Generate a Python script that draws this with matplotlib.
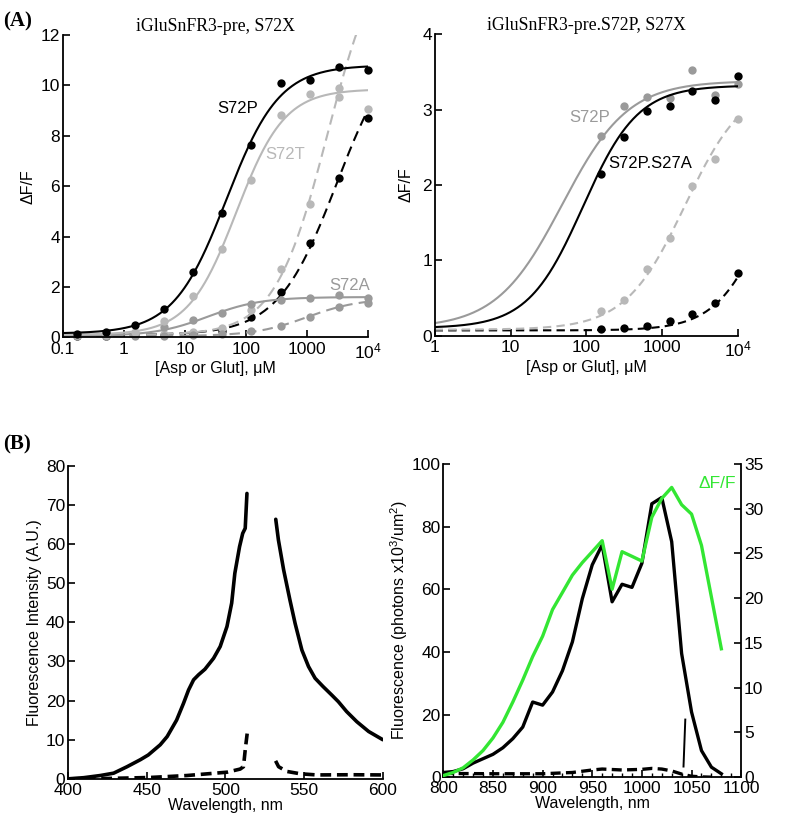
import numpy as np
import matplotlib
matplotlib.use('Agg')
import matplotlib.pyplot as plt

plt.rcParams['font.family'] = ['Liberation Sans', 'DejaVu Sans']
plt.rcParams['mathtext.fontset'] = 'custom'
plt.rcParams['mathtext.rm'] = 'Liberation Sans'
plt.rcParams['mathtext.it'] = 'Liberation Sans:italic'

# ---- panel A, left: iGluSnFR3-pre, S72X ----
conc_a = [0.169, 0.508, 1.52, 4.57, 13.7, 41.2, 123, 370, 1111, 3333, 10000]
s72p_glu = [0.12, 0.2, 0.49, 1.13, 2.6, 4.93, 7.63, 10.08, 10.2, 10.74, 10.6]
s72t_glu = [0.1, 0.1, 0.2, 0.66, 1.66, 3.52, 6.23, 8.82, 9.64, 9.52, np.nan]
s72a_glu = [0.1, 0.07, 0.15, 0.4, 0.68, 0.97, 1.33, 1.5, 1.55, 1.67, 1.58]
s72t_asp = [0.1, 0.08, 0.1, 0.15, 0.2, 0.38, 1.1, 2.7, 5.3, 9.88, 9.05]
s72p_asp = [0.05, 0.05, 0.08, 0.1, 0.15, 0.25, 0.82, 1.8, 3.74, 6.32, 8.72]
s72a_asp = [0.05, 0.05, 0.05, 0.05, 0.08, 0.15, 0.26, 0.45, 0.82, 1.19, 1.37]
# fitted Hill curves: (F0, Fmax, EC50, n)
fit_s72p_glu = (0.15, 10.65, 48, 1.0)
fit_s72t_glu = (0.1, 9.75, 70, 1.1)
fit_s72a_glu = (0.05, 1.55, 24, 1.0)
fit_s72t_asp = (0.1, 16.0, 2200, 1.0)
fit_s72p_asp = (0.1, 12.0, 3075, 0.9)
fit_s72a_asp = (0.05, 1.5, 1000, 1.0)
ticks_a1 = [0.1, 1, 10, 100, 1000, 10000]
ticklabels_a1 = ['0.1', '1', '10', '100', '1000', '10$^4$']

# ---- panel A, right: iGluSnFR3-pre.S72P, S27X ----
conc_a2 = [156, 312, 625, 1250, 2500, 5000, 10000]
s72p_glu2 = [2.65, 3.05, 3.16, 3.15, 3.52, 3.19, 3.34]
s27a_glu = [2.14, 2.63, 2.98, 3.05, 3.24, 3.12, 3.44]
s72p_asp2 = [0.33, 0.47, 0.88, 1.3, 1.99, 2.35, 2.87]
s27a_asp = [0.09, 0.1, 0.13, 0.19, 0.29, 0.44, 0.83]
fit_s72p_glu2 = (0.1, 3.28, 48, 1.0)
fit_s27a_glu = (0.1, 3.22, 90, 1.2)
fit_s72p_asp2 = (0.08, 3.3, 2000, 1.1)
fit_s27a_asp = (0.07, 3.3, 28000, 1.25)
ticks_a2 = [1, 10, 100, 1000, 10000]
ticklabels_a2 = ['1', '10', '100', '1000', '10$^4$']

# ---- panel B, left: emission spectra ----
wl_left_a = [400, 410, 420.5, 429, 437.5, 446, 451, 458.6, 463, 469, 473.4, 476.6,
             479.8, 483, 487, 492.5, 496.7, 501, 504, 506, 509, 511, 512.6, 513.7]
em_bound_a = [0, 0.3, 0.85, 1.45, 3.1, 4.9, 6.1, 8.7, 10.8, 15, 19.3, 22.7,
              25.3, 26.6, 28, 30.8, 33.8, 38.9, 44.9, 52.5, 59.3, 62.7, 64, 72.9]
wl_left_b = [532, 533.7, 537, 541, 544.3, 548.6, 552.8, 557, 562, 567.6, 571.8,
             577, 583.5, 591, 600]
em_bound_b = [66.3, 61, 53.4, 45.7, 39.7, 32.9, 28.7, 25.7, 23.6, 21.4, 19.7,
              17.2, 14.6, 12.1, 10]
wl_apo_a = [400, 425, 452, 475.5, 501, 509.4, 511.5, 512.6, 514]
em_apo_a = [0, 0.1, 0.35, 0.85, 1.7, 2.5, 3.1, 7.4, 12.1]
wl_apo_b = [531.9, 533.8, 539, 547.5, 558, 580, 600]
em_apo_b = [4.6, 3.1, 1.9, 1.3, 1.0, 1.05, 1.0]

# ---- panel B, right: 2P spectra ----
wl_2p = [800, 810, 820, 830, 840, 850, 860, 870, 880, 890, 900, 910, 920, 930, 940,
         950, 960, 970, 980, 990, 1000, 1010, 1020, 1030, 1040, 1050, 1060, 1070, 1080]
fl_bound = [1.5, 1.8, 2.7, 4.5, 5.9, 7.3, 9.4, 12.3, 16, 24, 23, 27.2, 34, 43.2, 57,
            67.8, 74.2, 56, 61.6, 60.6, 68.3, 87.3, 89.3, 75.2, 39.5, 20.8, 8.5, 3.2, 1.1]
dff_2p = [0.18, 0.53, 1.05, 1.93, 2.98, 4.38, 6.13, 8.4, 10.85, 13.48, 15.75, 18.73,
          20.65, 22.58, 23.98, 25.2, 26.43, 21.0, 25.2, 24.68, 24.15, 29.05, 31.15,
          32.38, 30.45, 29.4, 25.9, 20.13, 14.35]
wl_apo_2p = [800, 850, 900, 930, 950, 960, 980, 1000, 1010, 1020, 1030, 1040, 1050, 1060, 1070]
fl_apo = [1.2, 1.1, 1.1, 1.5, 2.3, 2.6, 2.3, 2.5, 2.8, 2.6, 2.0, 1.0, 0.3, 0.1, 0.0]
wl_spike = [1043.7, 1041.9]
fl_spike = [18.4, 3.4]

BLACK = '#000000'
LIGHT = '#b8b8b8'
MID = '#9a9a9a'
GREEN = '#33e633'
TICK_FS = 12.5
LABEL_FS = 11.5


def hill(x, p):
    f0, fmax, k, n = p
    r = (x / k) ** n
    return f0 + fmax * r / (1 + r)


def style(ax):
    for s in ['top', 'right']:
        ax.spines[s].set_visible(False)
    for s in ['left', 'bottom']:
        ax.spines[s].set_linewidth(1.3)
    ax.tick_params(direction='in', length=5, width=1.2, labelsize=TICK_FS, pad=2)
    ax.tick_params(axis='x', pad=3)


fig = plt.figure(figsize=(7.86, 8.33), dpi=100)

# A left
ax1 = fig.add_axes([0.080, 0.595, 0.388, 0.363])
xs = np.logspace(-1, 4, 400)
for pts, fit, col, ls in [(s72p_asp, fit_s72p_asp, BLACK, (0, (5, 3))),
                          (s72t_asp, fit_s72t_asp, LIGHT, (0, (5, 3))),
                          (s72a_asp, fit_s72a_asp, MID, (0, (5, 3))),
                          (s72a_glu, fit_s72a_glu, MID, '-'),
                          (s72t_glu, fit_s72t_glu, LIGHT, '-'),
                          (s72p_glu, fit_s72p_glu, BLACK, '-')]:
    ax1.plot(xs, hill(xs, fit), color=col, lw=1.5, ls=ls)
    ax1.plot(conc_a, pts, 'o', color=col, ms=6, mec='none', clip_on=False)
ax1.set_xscale('log')
ax1.set_xlim(0.1, 10000)
ax1.set_ylim(0, 12)
ax1.set_xticks(ticks_a1)
ax1.set_xticklabels(ticklabels_a1)
ax1.minorticks_off()
ax1.set_yticks(range(0, 13, 2))
style(ax1)
ax1.set_ylabel('ΔF/F', fontsize=LABEL_FS, labelpad=4)
ax1.set_xlabel('[Asp or Glut], μM', fontsize=LABEL_FS, labelpad=0)
ax1.set_title('iGluSnFR3-pre, S72X', fontsize=12.8, family='Liberation Serif', pad=2)
ax1.text(0.573, 0.757, 'S72P', color=BLACK, fontsize=12, ha='center', va='center',
         transform=ax1.transAxes)
ax1.text(0.73, 0.605, 'S72T', color=LIGHT, fontsize=12, ha='center', va='center',
         transform=ax1.transAxes)
ax1.text(0.94, 0.172, 'S72A', color=MID, fontsize=12, ha='center', va='center',
         transform=ax1.transAxes)

# A right
ax2 = fig.add_axes([0.553, 0.597, 0.386, 0.362])
xs2 = np.logspace(0, 4, 400)
for pts, fit, col, ls in [(s27a_asp, fit_s27a_asp, BLACK, (0, (4, 2.5))),
                          (s72p_asp2, fit_s72p_asp2, LIGHT, (0, (4, 2.5))),
                          (s72p_glu2, fit_s72p_glu2, MID, '-'),
                          (s27a_glu, fit_s27a_glu, BLACK, '-')]:
    ax2.plot(xs2, hill(xs2, fit), color=col, lw=1.5, ls=ls)
    ax2.plot(conc_a2, pts, 'o', color=col, ms=6, mec='none', clip_on=False)
ax2.set_xscale('log')
ax2.set_xlim(1, 10000)
ax2.set_ylim(0, 4)
ax2.set_xticks(ticks_a2)
ax2.set_xticklabels(ticklabels_a2)
ax2.minorticks_off()
ax2.set_yticks(range(0, 5))
style(ax2)
ax2.set_ylabel('ΔF/F', fontsize=LABEL_FS, labelpad=6)
ax2.set_xlabel('[Asp or Glut], μM', fontsize=LABEL_FS, labelpad=0)
ax2.set_title('iGluSnFR3-pre.S72P, S27X', fontsize=12.8, family='Liberation Serif', pad=2)
ax2.text(0.51, 0.725, 'S72P', color=MID, fontsize=12, ha='center', va='center',
         transform=ax2.transAxes)
ax2.text(0.71, 0.57, 'S72P.S27A', color=BLACK, fontsize=12, ha='center', va='center',
         transform=ax2.transAxes)

# B left
ax3 = fig.add_axes([0.0865, 0.065, 0.4005, 0.376])
ax3.plot(wl_left_a, em_bound_a, color=BLACK, lw=2.6, solid_capstyle='round')
ax3.plot(wl_left_b, em_bound_b, color=BLACK, lw=2.6, solid_capstyle='round')
ax3.plot(wl_apo_a, em_apo_a, color=BLACK, lw=2.6, ls=(0, (3, 1.6)))
ax3.plot(wl_apo_b, em_apo_b, color=BLACK, lw=2.6, ls=(0, (3, 1.6)))
ax3.set_xlim(400, 600)
ax3.set_ylim(0, 80)
ax3.set_xticks(range(400, 601, 50))
ax3.set_yticks(range(0, 81, 10))
style(ax3)
ax3.set_ylabel('Fluorescence Intensity (A.U.)', fontsize=LABEL_FS, labelpad=3)
ax3.set_xlabel('Wavelength, nm', fontsize=LABEL_FS, labelpad=0)

# B right
ax4 = fig.add_axes([0.564, 0.067, 0.379, 0.376])
ax4.plot(wl_2p, fl_bound, color=BLACK, lw=2.4)
ax4.plot(wl_apo_2p, fl_apo, color=BLACK, lw=2.4, ls=(0, (3, 1.6)))
ax4.plot(wl_spike, fl_spike, color=BLACK, lw=1.4)
ax4.set_xlim(800, 1100)
ax4.set_ylim(0, 100)
ax4.set_xticks(range(800, 1101, 50))
ax4.set_xticks(range(800, 1101, 10), minor=True)
ax4.set_yticks(range(0, 101, 20))
style(ax4)
ax4.tick_params(axis='x', which='minor', direction='in', length=3, width=1)
ax4.set_ylabel('Fluorescence (photons x10$^3$/um$^2$)', fontsize=LABEL_FS, labelpad=1)
ax4.set_xlabel('Wavelength, nm', fontsize=LABEL_FS, labelpad=0)
ax5 = ax4.twinx()
ax5.plot(wl_2p, dff_2p, color=GREEN, lw=2.4)
ax5.set_ylim(0, 35)
ax5.set_yticks(range(0, 36, 5))
for s in ['top', 'left', 'bottom']:
    ax5.spines[s].set_visible(False)
ax5.spines['right'].set_linewidth(1.3)
ax5.tick_params(direction='in', length=5, width=1.2, labelsize=TICK_FS, pad=2)
ax5.text(0.92, 0.937, 'ΔF/F', color=GREEN, fontsize=12.5, ha='center', va='center',
         transform=ax5.transAxes)

fig.text(0.004, 0.974, '(A)', fontsize=15, fontweight='bold', family='Liberation Serif',
         va='center')
fig.text(0.004, 0.466, '(B)', fontsize=15, fontweight='bold', family='Liberation Serif',
         va='center')

fig.savefig('out.png', dpi=100)
